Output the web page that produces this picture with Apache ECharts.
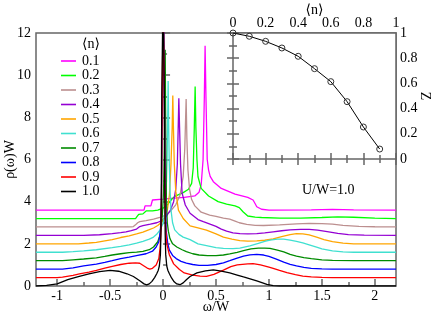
<!DOCTYPE html>
<html><head><meta charset="utf-8">
<script src="https://cdn.jsdelivr.net/npm/echarts@6/dist/echarts.min.js"></script>
<style>html,body{margin:0;padding:0;background:#fff}#c{width:436px;height:315px}</style>
</head><body><div id="c"></div>
<script>
// ---- data (curves are shown with their vertical offsets) ----
const densities = ['0.1','0.2','0.3','0.4','0.5','0.6','0.7','0.8','0.9','1.0'];
const colors = ['#ff00ff','#00ff00','#bc8f8f','#9400d3','#ffa500','#40e0d0','#008b00','#0000ff','#ff0000','#000000'];

const rho_n01 = [[-1.2,3.6],[-0.18,3.6],[-0.17,3.8],[-0.115,3.8],[-0.1,4.08],[0,4.12],[0.1,4.17],[0.2,4.2],[0.3,4.27],[0.34,4.45],[0.36,4.8],[0.378,6.0],[0.39,9],[0.397,11.4],[0.405,9],[0.417,6.0],[0.43,5.5],[0.445,5.2],[0.475,4.95],[0.55,4.63],[0.68,4.36],[0.8,4.2],[0.85,4.08],[0.87,3.9],[0.885,3.76],[0.93,3.64],[1.0,3.6],[1.4,3.61],[1.6,3.63],[1.8,3.61],[2.2,3.6]];
const rho_n02 = [[-1.2,3.2],[-0.26,3.2],[-0.245,3.3],[-0.23,3.4],[-0.19,3.42],[-0.175,3.5],[-0.16,3.56],[-0.1,3.56],[-0.05,3.6],[0,3.69],[0.04,3.85],[0.08,4.1],[0.11,4.25],[0.19,4.43],[0.24,4.59],[0.27,4.87],[0.285,5.6],[0.295,7.5],[0.303,9.46],[0.31,7.5],[0.32,6.0],[0.33,5.18],[0.36,4.63],[0.43,4.27],[0.52,4.0],[0.6,3.88],[0.68,3.8],[0.72,3.72],[0.755,3.52],[0.8,3.32],[0.87,3.27],[0.93,3.25],[1.1,3.22],[1.3,3.22],[1.5,3.25],[1.65,3.28],[1.8,3.26],[2.0,3.22],[2.2,3.2]];
const rho_n03 = [[-1.2,2.8],[-0.3,2.8],[-0.28,2.82],[-0.26,2.9],[-0.24,3.0],[-0.22,3.05],[-0.16,3.1],[-0.09,3.17],[-0.03,3.25],[0.02,3.35],[0.07,3.55],[0.12,3.85],[0.16,4.3],[0.19,5.2],[0.205,6.5],[0.218,8.87],[0.225,7],[0.235,5.5],[0.25,4.6],[0.27,4.1],[0.3,3.8],[0.36,3.5],[0.44,3.36],[0.5,3.3],[0.57,3.22],[0.63,3.17],[0.68,3.08],[0.72,3.0],[0.79,2.92],[0.87,2.88],[0.95,2.87],[1.1,2.9],[1.26,2.95],[1.38,2.97],[1.5,2.96],[1.6,2.93],[1.7,2.88],[1.85,2.83],[2.0,2.81],[2.2,2.8]];
const rho_n04 = [[-1.2,2.4],[-0.75,2.4],[-0.6,2.43],[-0.48,2.48],[-0.4,2.53],[-0.35,2.57],[-0.3,2.63],[-0.25,2.7],[-0.22,2.82],[-0.19,2.86],[-0.12,2.93],[-0.06,3.0],[-0.01,3.1],[0.03,3.3],[0.07,3.6],[0.1,4.0],[0.12,4.6],[0.135,5.8],[0.143,7.5],[0.149,8.9],[0.156,7.5],[0.165,5.8],[0.18,4.4],[0.21,3.84],[0.255,3.45],[0.33,3.15],[0.38,3.05],[0.45,2.92],[0.5,2.83],[0.55,2.7],[0.6,2.6],[0.66,2.52],[0.725,2.48],[0.8,2.47],[0.885,2.48],[0.96,2.52],[1.04,2.57],[1.12,2.62],[1.2,2.66],[1.3,2.69],[1.38,2.69],[1.46,2.65],[1.55,2.58],[1.65,2.5],[1.75,2.44],[1.9,2.41],[2.2,2.4]];
const rho_n05 = [[-1.2,2.0],[-0.8,2.0],[-0.7,2.04],[-0.63,2.07],[-0.55,2.14],[-0.48,2.2],[-0.4,2.3],[-0.32,2.38],[-0.25,2.47],[-0.19,2.56],[-0.13,2.67],[-0.09,2.75],[-0.05,2.87],[-0.02,3.0],[0.01,3.2],[0.04,3.6],[0.06,4.3],[0.075,5.8],[0.086,7.5],[0.092,9.03],[0.098,7.5],[0.106,5.8],[0.12,4.5],[0.145,3.6],[0.19,3.2],[0.255,2.85],[0.33,2.76],[0.41,2.65],[0.5,2.47],[0.57,2.32],[0.65,2.22],[0.725,2.15],[0.8,2.13],[0.885,2.14],[0.96,2.17],[1.04,2.23],[1.12,2.34],[1.2,2.44],[1.26,2.48],[1.32,2.47],[1.38,2.42],[1.45,2.32],[1.52,2.2],[1.6,2.1],[1.7,2.03],[1.8,2.0],[2.2,2.0]];
const rho_n06 = [[-1.2,1.6],[-0.95,1.6],[-0.85,1.63],[-0.75,1.67],[-0.63,1.72],[-0.48,1.82],[-0.4,1.88],[-0.32,1.95],[-0.25,2.03],[-0.19,2.12],[-0.13,2.22],[-0.09,2.32],[-0.06,2.45],[-0.03,2.65],[0,2.95],[0.015,3.4],[0.028,4.3],[0.038,6],[0.044,8],[0.048,9.72],[0.052,8],[0.058,6],[0.066,4.5],[0.075,3.6],[0.09,3.0],[0.11,2.66],[0.15,2.45],[0.19,2.32],[0.255,2.2],[0.33,2.0],[0.41,1.92],[0.5,1.82],[0.57,1.78],[0.66,1.77],[0.725,1.8],[0.82,1.9],[0.9,2.02],[0.96,2.12],[1.01,2.18],[1.08,2.22],[1.14,2.22],[1.2,2.18],[1.26,2.12],[1.32,2.04],[1.38,1.95],[1.45,1.84],[1.5,1.76],[1.6,1.67],[1.7,1.62],[1.8,1.6],[2.2,1.6]];
const rho_n07 = [[-1.2,1.2],[-0.95,1.2],[-0.85,1.24],[-0.75,1.28],[-0.63,1.33],[-0.55,1.4],[-0.48,1.47],[-0.4,1.53],[-0.32,1.58],[-0.25,1.61],[-0.19,1.64],[-0.13,1.72],[-0.09,1.85],[-0.05,2.1],[-0.03,2.4],[-0.015,2.9],[-0.005,3.5],[0.005,4.5],[0.012,6.5],[0.017,9],[0.02,11.2],[0.023,9],[0.027,6],[0.032,4],[0.04,3.0],[0.05,2.6],[0.065,2.25],[0.09,2.0],[0.13,1.85],[0.18,1.72],[0.22,1.63],[0.28,1.53],[0.34,1.47],[0.42,1.44],[0.5,1.44],[0.57,1.47],[0.63,1.52],[0.7,1.6],[0.76,1.68],[0.83,1.76],[0.9,1.8],[0.96,1.8],[1.01,1.78],[1.08,1.7],[1.14,1.62],[1.2,1.5],[1.26,1.42],[1.33,1.35],[1.4,1.3],[1.5,1.24],[1.6,1.22],[1.8,1.2],[2.2,1.2]];
const rho_n08 = [[-1.2,0.8],[-0.95,0.8],[-0.85,0.86],[-0.75,0.95],[-0.63,1.04],[-0.55,1.12],[-0.48,1.2],[-0.4,1.3],[-0.32,1.37],[-0.24,1.45],[-0.16,1.53],[-0.1,1.65],[-0.065,1.85],[-0.04,2.1],[-0.025,2.6],[-0.015,4],[-0.008,8],[0.004,14],[0.014,8],[0.02,4.5],[0.03,2.6],[0.045,2.0],[0.06,1.7],[0.09,1.45],[0.124,1.3],[0.17,1.17],[0.22,1.08],[0.28,1.02],[0.34,0.98],[0.42,0.98],[0.5,1.02],[0.57,1.1],[0.63,1.2],[0.7,1.32],[0.76,1.42],[0.82,1.48],[0.885,1.5],[0.95,1.47],[1.0,1.4],[1.07,1.27],[1.14,1.13],[1.2,1.03],[1.26,0.95],[1.33,0.88],[1.4,0.84],[1.5,0.81],[1.6,0.8],[2.2,0.8]];
const rho_n09 = [[-1.2,0.4],[-1.0,0.4],[-0.95,0.42],[-0.85,0.5],[-0.79,0.57],[-0.7,0.66],[-0.63,0.74],[-0.55,0.85],[-0.48,0.93],[-0.4,1.02],[-0.32,1.08],[-0.26,1.1],[-0.22,1.08],[-0.18,0.95],[-0.15,0.85],[-0.125,0.8],[-0.1,0.84],[-0.065,1.0],[-0.04,1.3],[-0.028,1.8],[-0.02,2.6],[-0.014,4.5],[-0.008,9],[0.002,14],[0.012,9],[0.018,4.5],[0.024,2.8],[0.035,2.0],[0.06,1.47],[0.1,1.05],[0.155,0.78],[0.2,0.62],[0.28,0.52],[0.35,0.47],[0.41,0.46],[0.48,0.55],[0.57,0.75],[0.64,0.92],[0.7,1.0],[0.8,1.05],[0.85,1.06],[0.92,1.0],[1.0,0.9],[1.04,0.84],[1.1,0.74],[1.17,0.63],[1.25,0.54],[1.32,0.47],[1.4,0.43],[1.5,0.41],[1.6,0.4],[2.2,0.4]];
const rho_n10 = [[-1.2,0],[-1.1,0.03],[-1.0,0.1],[-0.9,0.3],[-0.8,0.45],[-0.7,0.58],[-0.6,0.68],[-0.5,0.74],[-0.42,0.7],[-0.34,0.58],[-0.28,0.45],[-0.22,0.25],[-0.18,0.1],[-0.155,0.05],[-0.13,0.1],[-0.105,0.22],[-0.08,0.4],[-0.06,0.58],[-0.045,0.75],[-0.035,0.95],[-0.025,1.5],[-0.02,2.5],[-0.016,5],[-0.012,9],[0,14],[0.012,9],[0.016,5],[0.02,2.5],[0.025,1.5],[0.035,0.95],[0.045,0.75],[0.06,0.58],[0.08,0.38],[0.105,0.2],[0.13,0.1],[0.16,0.06],[0.19,0.15],[0.22,0.3],[0.255,0.45],[0.32,0.62],[0.4,0.72],[0.475,0.76],[0.55,0.71],[0.63,0.62],[0.7,0.52],[0.76,0.43],[0.83,0.33],[0.885,0.24],[0.94,0.15],[0.98,0.08],[1.04,0.02],[1.1,0],[2.2,0]];
const spectra = [rho_n01,rho_n02,rho_n03,rho_n04,rho_n05,rho_n06,rho_n07,rho_n08,rho_n09,rho_n10];

const insetDensity = [0,0.1,0.2,0.3,0.4,0.5,0.6,0.7,0.8,0.9];
const insetZ = [1.0,0.974,0.934,0.881,0.815,0.717,0.614,0.455,0.254,0.079];

const xMajorTicks = [-1,-0.5,0,0.5,1,1.5,2];
const xMinorTicks = [-0.75,-0.25,0.25,0.75,1.25,1.75];

// ---- chart ----
const FONT = '"Liberation Serif","DejaVu Serif",serif';
const AX = '#666';
const txt = {fontFamily: FONT, fontSize: 14, color: '#000'};
const chart = echarts.init(document.getElementById('c'), null, {renderer: 'canvas'});

const series = spectra.map((d, i) => ({
  name: densities[i], type: 'line', xAxisIndex: 0, yAxisIndex: 0,
  data: d, showSymbol: false, symbol: 'none', clip: true, animation: false,
  lineStyle: {color: colors[i], width: 1.3}, itemStyle: {color: colors[i]}
}));
series.push({
  name: 'Z', type: 'line', xAxisIndex: 2, yAxisIndex: 1, z: 10,
  data: insetDensity.map((n, i) => [n, insetZ[i]]),
  symbol: 'circle', symbolSize: 6, showAllSymbol: true, animation: false,
  lineStyle: {color: '#000', width: 1},
  itemStyle: {color: 'rgba(255,255,255,0)', borderColor: '#333', borderWidth: 1}
});

chart.setOption({
  animation: false,
  backgroundColor: '#fff',
  grid: [
    {left: 36, top: 33, width: 360, height: 253, containLabel: false, outerBoundsMode: 'none', show: true, borderColor: AX, borderWidth: 1.5, backgroundColor: 'transparent'},
    {left: 233, top: 33, width: 163, height: 126, containLabel: false, outerBoundsMode: 'none', show: true, borderColor: AX, borderWidth: 1.5, backgroundColor: '#fff'}
  ],
  xAxis: [
    {type: 'value', gridIndex: 0, min: -1.2, max: 2.2, position: 'bottom',
     axisLine: {show: false}, splitLine: {show: false},
     axisTick: {inside: true, length: 7, customValues: xMajorTicks, lineStyle: {color: AX, width: 1.5}},
     axisLabel: Object.assign({customValues: xMajorTicks, margin: 3}, txt),
     name: 'ω/W', nameLocation: 'middle', nameGap: 14, nameMoveOverlap: false, nameTextStyle: txt},
    {type: 'value', gridIndex: 0, min: -1.2, max: 2.2, position: 'bottom',
     axisLine: {show: false}, splitLine: {show: false}, axisLabel: {show: false},
     axisTick: {inside: true, length: 4, customValues: xMinorTicks, lineStyle: {color: AX, width: 1.5}}},
    {type: 'value', gridIndex: 1, min: 0, max: 1, interval: 0.2, position: 'top',
     axisLine: {show: false}, splitLine: {show: false},
     axisTick: {inside: true, length: 6, lineStyle: {color: AX, width: 1.5}},
     minorTick: {show: true, splitNumber: 2, length: 4, lineStyle: {color: AX, width: 1.5}},
     axisLabel: Object.assign({margin: 3}, txt),
     name: '⟨n⟩', nameLocation: 'middle', nameGap: 16, nameMoveOverlap: false, nameTextStyle: txt},
    {type: 'value', gridIndex: 1, min: 0, max: 1, interval: 0.2, position: 'bottom',
     axisLine: {show: false}, splitLine: {show: false}, axisLabel: {show: false},
     axisTick: {inside: true, length: 6, lineStyle: {color: AX, width: 1.5}},
     minorTick: {show: true, splitNumber: 2, length: 4, lineStyle: {color: AX, width: 1.5}}}
  ],
  yAxis: [
    {type: 'value', gridIndex: 0, min: 0, max: 12, interval: 2, position: 'left',
     axisLine: {show: false}, splitLine: {show: false},
     axisTick: {inside: true, length: 7, lineStyle: {color: AX, width: 1.5}},
     minorTick: {show: true, splitNumber: 2, length: 4, lineStyle: {color: AX, width: 1.5}},
     axisLabel: Object.assign({margin: 5}, txt),
     name: 'ρ(ω)W', nameLocation: 'middle', nameGap: 19, nameMoveOverlap: false, nameTextStyle: txt},
    {type: 'value', gridIndex: 1, min: 0, max: 1, interval: 0.2, position: 'right',
     axisLine: {show: false}, splitLine: {show: false},
     axisTick: {inside: true, length: 6, lineStyle: {color: AX, width: 1.5}},
     minorTick: {show: true, splitNumber: 2, length: 4, lineStyle: {color: AX, width: 1.5}},
     axisLabel: Object.assign({margin: 4}, txt),
     name: 'Z', nameLocation: 'middle', nameGap: 22, nameRotate: -90, nameMoveOverlap: false, nameTextStyle: txt},
    {type: 'value', gridIndex: 1, min: 0, max: 1, interval: 0.2, position: 'left',
     axisLine: {show: false}, splitLine: {show: false}, axisLabel: {show: false},
     axisTick: {inside: true, length: 6, lineStyle: {color: AX, width: 1.5}},
     minorTick: {show: true, splitNumber: 2, length: 4, lineStyle: {color: AX, width: 1.5}}}
  ],
  legend: {
    data: densities, orient: 'vertical', left: 61, top: 54, padding: 0,
    icon: 'rect', itemWidth: 15, itemHeight: 1.6, itemGap: 0.5,
    textStyle: Object.assign({lineHeight: 14, padding: [0, 0, 0, 1]}, txt),
    selectedMode: false
  },
  graphic: [
    {type: 'text', left: 82, top: 37, style: {text: '⟨n⟩', font: '14px ' + FONT, fill: '#000'}},
    {type: 'text', left: 302, top: 183, style: {text: 'U/W=1.0', font: '14px ' + FONT, fill: '#000'}}
  ],
  series: series
});
</script></body></html>
